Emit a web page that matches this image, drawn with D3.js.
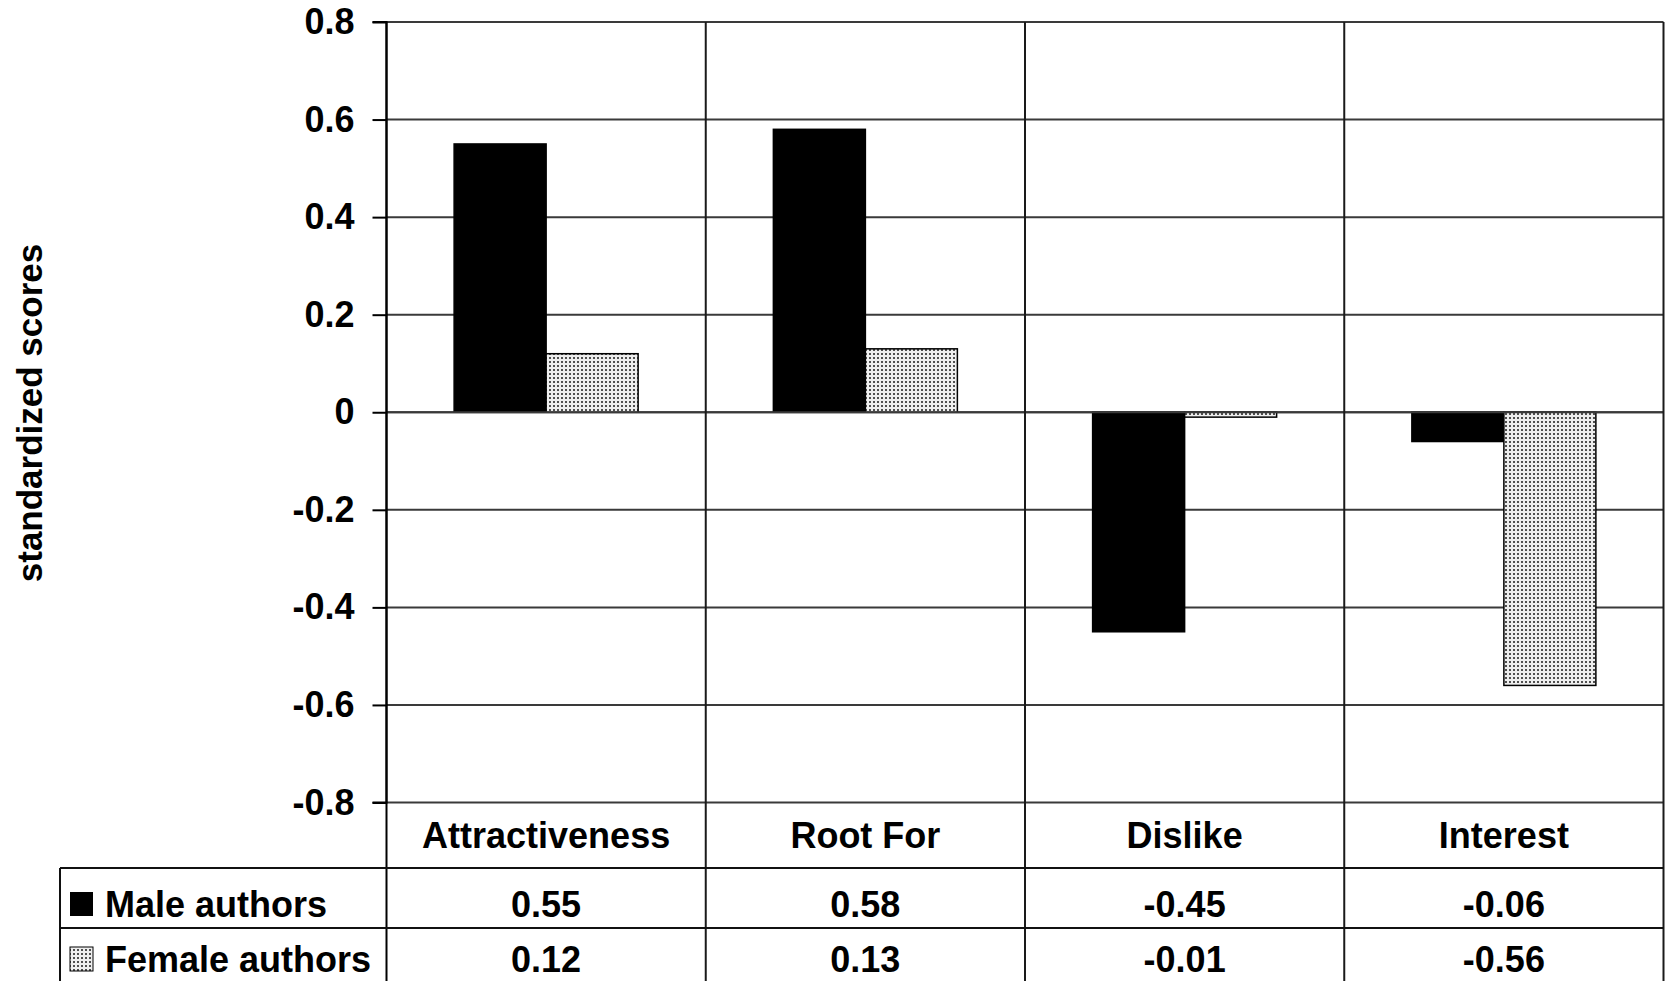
<!DOCTYPE html>
<html>
<head>
<meta charset="utf-8">
<script src="https://cdn.jsdelivr.net/npm/d3@7"></script>
<style>
  html, body { margin: 0; padding: 0; background: #fff; }
  svg { display: block; }
  text { font-family: "Liberation Sans", Arial, sans-serif; font-weight: bold; fill: #000; }
</style>
</head>
<body>
<svg id="chart" width="1667" height="981"></svg>
<script>
// ---- data ----
const categories = ["Attractiveness", "Root For", "Dislike", "Interest"];
const seriesNames = ["Male authors", "Female authors"];
const maleValues = [0.55, 0.58, -0.45, -0.06];
const femaleValues = [0.12, 0.13, -0.01, -0.56];
const yTicks = [0.8, 0.6, 0.4, 0.2, 0, -0.2, -0.4, -0.6, -0.8];
const yTitle = "standardized scores";

// ---- layout ----
const svg = d3.select("#chart");
const plotLeft = 386.5, plotRight = 1663.5, plotTop = 22, plotBottom = 802.5;
const rowCat = 868, rowMale = 928;
const tableLeft = 60;

const defs = svg.append("defs");
const pat = defs.append("pattern").attr("id", "dots")
  .attr("patternUnits", "userSpaceOnUse").attr("width", 4).attr("height", 4);
pat.append("rect").attr("width", 4).attr("height", 4).attr("fill", "#eeeeee");
pat.append("rect").attr("x", 1).attr("y", 1).attr("width", 2).attr("height", 2).attr("fill", "#4f4f4f");

const x = d3.scaleBand().domain(categories).range([plotLeft, plotRight]).paddingInner(0).paddingOuter(0);
const xs = d3.scaleBand().domain(seriesNames).range([0, x.bandwidth()]).paddingInner(0).paddingOuter(0.735);
const y = d3.scaleLinear().domain([-0.8, 0.8]).range([plotBottom, plotTop]);

// horizontal gridlines
svg.append("g").selectAll("line").data(yTicks).join("line")
  .attr("x1", plotLeft).attr("x2", plotRight)
  .attr("y1", d => y(d)).attr("y2", d => y(d))
  .attr("stroke", "#3a3a3a").attr("stroke-width", 2);

// bars
const seriesData = [maleValues, femaleValues];
seriesNames.forEach((s, si) => {
  svg.append("g").selectAll("rect").data(categories).join("rect")
    .attr("x", (c) => x(c) + xs(s))
    .attr("width", xs.bandwidth())
    .attr("y", (c, i) => y(Math.max(0, seriesData[si][i])))
    .attr("height", (c, i) => Math.abs(y(seriesData[si][i]) - y(0)))
    .attr("fill", si === 0 ? "#000" : "url(#dots)")
    .attr("stroke", "#000").attr("stroke-width", 1.5);
});

// zero line drawn over bars
svg.append("line").attr("x1", plotLeft).attr("x2", plotRight)
  .attr("y1", y(0)).attr("y2", y(0)).attr("stroke", "#3a3a3a").attr("stroke-width", 2);

// vertical category boundaries extending through the table
const bounds = categories.map(c => x(c) + x.bandwidth());
svg.append("g").selectAll("line").data(bounds).join("line")
  .attr("x1", d => d).attr("x2", d => d)
  .attr("y1", plotTop).attr("y2", 981)
  .attr("stroke", "#1a1a1a").attr("stroke-width", 2);

// y axis
const yAxis = d3.axisLeft(y).tickValues(yTicks).tickSize(14).tickPadding(18)
  .tickFormat(d => d === 0 ? "0" : d.toFixed(1));
const ga = svg.append("g").attr("transform", `translate(${plotLeft},0)`).call(yAxis);
ga.select(".domain").attr("stroke", "#000").attr("stroke-width", 2).attr("d", `M-14,${plotTop}H0V${plotBottom}H-14`);
ga.selectAll(".tick line").attr("stroke", "#000").attr("stroke-width", 2);
ga.selectAll(".tick text").attr("font-size", 36).attr("font-family", "Liberation Sans, Arial, sans-serif").attr("font-weight", "bold").attr("fill", "#000");
// axis line through table
svg.append("line").attr("x1", plotLeft).attr("x2", plotLeft).attr("y1", plotTop).attr("y2", 981)
  .attr("stroke", "#000").attr("stroke-width", 2);

// y title
svg.append("text").attr("transform", `translate(42,413) rotate(-90)`)
  .attr("text-anchor", "middle").attr("font-size", 35).text(yTitle);

// category labels
svg.append("g").selectAll("text").data(categories).join("text")
  .attr("x", c => x(c) + x.bandwidth() / 2).attr("y", 848)
  .attr("text-anchor", "middle").attr("font-size", 36).text(c => c);

// table lines
[rowCat, rowMale].forEach(yy => {
  svg.append("line").attr("x1", tableLeft).attr("x2", plotRight).attr("y1", yy).attr("y2", yy)
    .attr("stroke", "#111").attr("stroke-width", 2);
});
svg.append("line").attr("x1", tableLeft).attr("x2", tableLeft).attr("y1", rowCat).attr("y2", 981)
  .attr("stroke", "#111").attr("stroke-width", 2);

// table rows
const rowBaselines = [917, 972];
seriesNames.forEach((s, si) => {
  const by = rowBaselines[si];
  svg.append("rect").attr("x", 70).attr("y", by - 25).attr("width", 23).attr("height", 24)
    .attr("fill", si === 0 ? "#000" : "url(#dots)").attr("stroke", "#000").attr("stroke-width", si === 0 ? 0 : 1);
  svg.append("text").attr("x", 105).attr("y", by).attr("font-size", 36).text(s);
  svg.append("g").selectAll("text").data(categories).join("text")
    .attr("x", c => x(c) + x.bandwidth() / 2).attr("y", by)
    .attr("text-anchor", "middle").attr("font-size", 36)
    .text((c, i) => seriesData[si][i].toFixed(2));
});
</script>
</body>
</html>
